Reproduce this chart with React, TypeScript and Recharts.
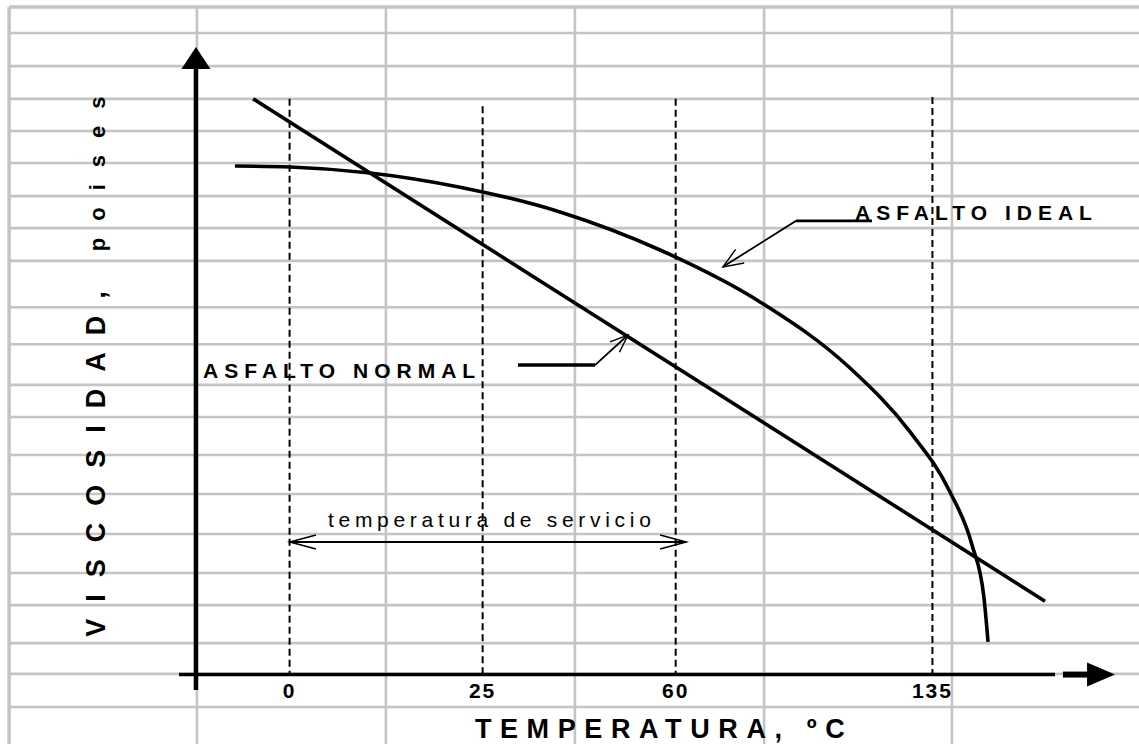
import React from 'react';
import { LineChart, Line, XAxis, YAxis, ReferenceLine, ReferenceDot } from 'recharts';

// Schematic chart: horizontal unit = position along the (non-linear) temperature axis
const tickPositions = [1.0, 2.0, 3.0, 4.33];
const tickLabels = ['0', '25', '60', '135'];
const dashedTops = [17.41, 17.19, 17.41, 17.47];

// Background spreadsheet grid (same units)
const gridCols = [-0.453, 0.52, 1.499, 2.478, 3.458, 4.431];
const gridRows = [20.19, 19.4, 18.4, 17.41, 16.44, 15.47, 14.47, 13.5, 12.51, 11.11, 9.99, 8.76, 7.79, 6.64, 5.46, 4.25, 3.07, 2.1, 0.95, 0.02, -0.98];

// Asfalto ideal (curve) and asfalto normal (straight line)
const idealX = [0.717, 1.002, 1.417, 1.883, 2.401, 2.919, 3.437, 3.903, 4.214, 4.421, 4.535, 4.597, 4.618];
const idealY = [15.38, 15.35, 15.17, 14.74, 13.99, 12.84, 11.27, 9.27, 7.34, 5.52, 3.92, 2.32, 0.99];
const normalX = [0.811, 4.913];
const normalY = [17.41, 2.22];

const idealData = idealX.map((x, i) => ({ x, y: idealY[i] }));
const normalData = normalX.map((x, i) => ({ x, y: normalY[i] }));

const FONT = "'Liberation Sans', Arial, Helvetica, sans-serif";

type ArrowOpts = { kind: 'open' | 'filled'; both?: boolean; len: number; half: number };
const makeArrow = ({ kind, both, len, half }: ArrowOpts) => (p: any) => {
  const { x1, y1, x2, y2, stroke, strokeWidth } = p;
  const dx = x2 - x1;
  const dy = y2 - y1;
  const L = Math.hypot(dx, dy) || 1;
  const ux = dx / L;
  const uy = dy / L;
  const nx = -uy;
  const ny = ux;
  const head = (tx: number, ty: number, dx_: number, dy_: number, key: string) => {
    const bx = tx - dx_ * len;
    const by = ty - dy_ * len;
    const a = `${bx + nx * half},${by + ny * half}`;
    const b = `${bx - nx * half},${by - ny * half}`;
    if (kind === 'filled') {
      return <polygon key={key} points={`${a} ${tx},${ty} ${b}`} fill={stroke} stroke="none" />;
    }
    return (
      <polyline key={key} points={`${a} ${tx},${ty} ${b}`} fill="none" stroke={stroke} strokeWidth={Math.max(1.2, strokeWidth * 0.8)} strokeLinejoin="miter" />
    );
  };
  const ex = kind === 'filled' ? x2 - ux * len * 0.9 : x2;
  const ey = kind === 'filled' ? y2 - uy * len * 0.9 : y2;
  const sx = kind === 'filled' && both ? x1 + ux * len * 0.9 : x1;
  const sy = kind === 'filled' && both ? y1 + uy * len * 0.9 : y1;
  return (
    <g>
      <line x1={sx} y1={sy} x2={ex} y2={ey} stroke={stroke} strokeWidth={strokeWidth} />
      {head(x2, y2, ux, uy, 'end')}
      {both ? head(x1, y1, -ux, -uy, 'start') : null}
    </g>
  );
};

const textShape = (text: string, size: number, weight: string, spacing: number, anchor: 'start' | 'middle' | 'end' = 'start') => (p: any) => (
  <text x={p.cx} y={p.cy} textAnchor={anchor} fontFamily={FONT} fontSize={size} fontWeight={weight} fill="#000" style={{ letterSpacing: `${spacing}px` }}>
    {text}
  </text>
);

const yLabelShape = (p: any) => (
  <text
    x={p.cx}
    y={p.cy}
    transform={`rotate(-90 ${p.cx} ${p.cy})`}
    fontFamily={FONT}
    fontWeight="bold"
    fill="#000"
    style={{ letterSpacing: '17px' }}
  >
    <tspan fontSize={27}>VISCOSIDAD,</tspan>
    <tspan fontSize={22}> poises</tspan>
  </text>
);

const GRID = '#c4c4c4';

export default function App() {
  return (
    <div style={{ position: 'absolute', left: 0, top: 0, width: 1139, height: 744, background: '#fff' }}>
      <LineChart width={1139} height={744} margin={{ top: 0, right: 0, bottom: 0, left: 0 }}>
        <XAxis type="number" dataKey="x" domain={[-0.5, 5.4]} allowDataOverflow hide />
        <YAxis type="number" dataKey="y" domain={[-2.1, 20.4]} allowDataOverflow hide />

        {/* spreadsheet grid */}
        {gridCols.map((c, i) => (
          <ReferenceLine key={`gc${i}`} segment={[{ x: c, y: gridRows[0] }, { x: c, y: -2.1 }]} stroke={GRID} strokeWidth={i === 0 ? 3.5 : 2.6} ifOverflow="visible" />
        ))}
        {gridRows.map((r, i) => (
          <ReferenceLine key={`gr${i}`} segment={[{ x: gridCols[0], y: r }, { x: 5.4, y: r }]} stroke={GRID} strokeWidth={i === 0 ? 3.5 : 2.6} ifOverflow="visible" />
        ))}

        {/* dashed temperature lines */}
        {tickPositions.map((t, i) => (
          <ReferenceLine key={`d${i}`} segment={[{ x: t, y: dashedTops[i] }, { x: t, y: 0 }]} stroke="#000" strokeWidth={2} strokeDasharray="7 4" ifOverflow="visible" />
        ))}

        {/* axes with arrows */}
        <ReferenceLine segment={[{ x: 0.515, y: -0.47 }, { x: 0.515, y: 18.98 }]} stroke="#000" strokeWidth={4.5} ifOverflow="visible" shape={makeArrow({ kind: 'filled', len: 22, half: 14.5 })} />
        <ReferenceLine segment={[{ x: 0.427, y: 0 }, { x: 4.965, y: 0 }]} stroke="#000" strokeWidth={3.5} ifOverflow="visible" />
        <ReferenceLine segment={[{ x: 5.006, y: 0 }, { x: 5.276, y: 0 }]} stroke="#000" strokeWidth={6} ifOverflow="visible" shape={makeArrow({ kind: 'filled', len: 28, half: 12 })} />

        {/* tick labels */}
        {tickPositions.map((t, i) => (
          <ReferenceDot key={`tl${i}`} x={t} y={-0.71} r={0} ifOverflow="visible" shape={textShape(tickLabels[i], 21, 'bold', 2, 'middle')} />
        ))}

        {/* curves */}
        <Line data={normalData} dataKey="y" type="linear" stroke="#000" strokeWidth={3.6} dot={false} activeDot={false} isAnimationActive={false} />
        <Line data={idealData} dataKey="y" type="monotone" stroke="#000" strokeWidth={3.6} dot={false} activeDot={false} isAnimationActive={false} />

        {/* ASFALTO IDEAL leader */}
        <ReferenceLine segment={[{ x: 4.017, y: 13.72 }, { x: 3.623, y: 13.72 }]} stroke="#000" strokeWidth={2.6} ifOverflow="visible" />
        <ReferenceLine segment={[{ x: 3.623, y: 13.72 }, { x: 3.245, y: 12.33 }]} stroke="#000" strokeWidth={1.8} ifOverflow="visible" shape={makeArrow({ kind: 'open', len: 20, half: 8 })} />
        <ReferenceDot x={3.929} y={13.75} r={0} ifOverflow="visible" shape={textShape('ASFALTO IDEAL', 21, 'bold', 6)} />

        {/* ASFALTO NORMAL leader */}
        <ReferenceLine segment={[{ x: 2.183, y: 9.36 }, { x: 2.582, y: 9.36 }]} stroke="#000" strokeWidth={3.6} ifOverflow="visible" />
        <ReferenceLine segment={[{ x: 2.582, y: 9.36 }, { x: 2.753, y: 10.27 }]} stroke="#000" strokeWidth={1.8} ifOverflow="visible" shape={makeArrow({ kind: 'open', len: 18, half: 7 })} />
        <ReferenceDot x={0.552} y={8.98} r={0} ifOverflow="visible" shape={textShape('ASFALTO NORMAL', 21, 'bold', 6)} />

        {/* temperatura de servicio */}
        <ReferenceLine segment={[{ x: 1.002, y: 4.01 }, { x: 3.054, y: 4.01 }]} stroke="#000" strokeWidth={2} ifOverflow="visible" shape={makeArrow({ kind: 'open', both: true, len: 26, half: 7 })} />
        <ReferenceDot x={1.199} y={4.46} r={0} ifOverflow="visible" shape={textShape('temperatura de servicio', 21, 'normal', 4.7)} />

        {/* axis titles */}
        <ReferenceDot x={1.96} y={-1.92} r={0} ifOverflow="visible" shape={textShape('TEMPERATURA, ºC', 27, 'bold', 8.6)} />
        <ReferenceDot x={0.044} y={1.14} r={0} ifOverflow="visible" shape={yLabelShape} />
      </LineChart>
    </div>
  );
}
